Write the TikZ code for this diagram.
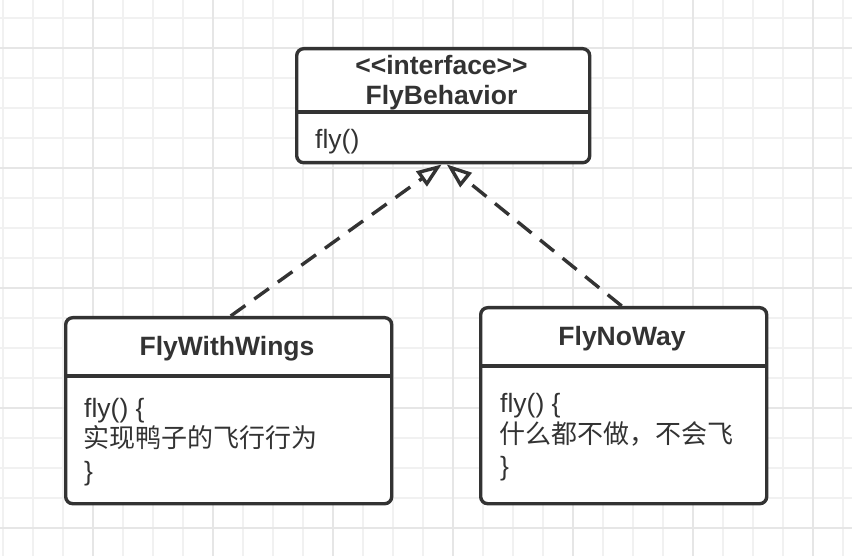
\documentclass[tikz,border=0pt]{standalone}
\usepackage{fontspec}
\setmainfont{Liberation Sans}
\newfontfamily\cjk{Noto Sans CJK SC}
\usetikzlibrary{arrows.meta}
\definecolor{ink}{HTML}{333333}
\definecolor{gridminor}{HTML}{F1F1F1}
\definecolor{gridmajor}{HTML}{E6E6E6}
\begin{document}
\begin{tikzpicture}[x=1pt,y=-1pt,
  umlbox/.style={draw=ink, line width=3.4pt, rounded corners=7pt, fill=white, inner sep=0pt, anchor=north west},
  titletext/.style={font=\fontsize{26.5}{30}\selectfont\bfseries, text=ink, inner sep=0pt, anchor=base},
  bodytext/.style={font=\fontsize{26.5}{30}\selectfont, text=ink, inner sep=0pt, anchor=base west},
  cjktext/.style={font=\fontsize{26}{30}\selectfont\cjk, text=ink, inner sep=0pt, anchor=base west},
  divider/.style={draw=ink, line width=3.4pt},
  realize/.style={draw=ink, line width=3.4pt, dash pattern=on 18pt off 11pt,
    -{Triangle[open, length=25pt, width=18pt]}}
]
\useasboundingbox (0,0) rectangle (852,556);
\fill[white] (0,0) rectangle (852,556);
% grid
\foreach \x in {3,33,...,843} \draw[gridminor, line width=1.5pt] (\x,0) -- (\x,556);
\foreach \y in {18,48,...,548} \draw[gridminor, line width=1.5pt] (0,\y) -- (852,\y);
\foreach \x in {93,213,...,813} \draw[gridmajor, line width=1.5pt] (\x,0) -- (\x,556);
\foreach \y in {48,168,...,528} \draw[gridmajor, line width=1.5pt] (0,\y) -- (852,\y);

% FlyBehavior
\node[umlbox, minimum width=293pt, minimum height=114pt] (fb) at (295,47) {};
\draw[divider] (fb.west |- 0,112) -- (fb.east |- 0,112);
\node[titletext] (fbst) at (441.5,75) {<{}<interface>{}>};
\node[titletext] (fbname) at (441.5,105) {FlyBehavior};
\node[bodytext] (fbop) at (315,149) {fly()};

% FlyWithWings
\node[umlbox, minimum width=326pt, minimum height=186pt] (fww) at (64,316) {};
\draw[divider] (fww.west |- 0,376) -- (fww.east |- 0,376);
\node[titletext] (fwwname) at (227,355) {FlyWithWings};
\node[bodytext] (fwwa) at (84,417) {fly() \{};
\node[cjktext] (fwwb) at (83.5,447.5) {实现鸭子的飞行行为};
\node[bodytext] (fwwc) at (84,480) {\}};

% FlyNoWay
\node[umlbox, minimum width=286pt, minimum height=196pt] (fnw) at (479,306) {};
\draw[divider] (fnw.west |- 0,366) -- (fnw.east |- 0,366);
\node[titletext] (fnwname) at (622,345) {FlyNoWay};
\node[bodytext] (fnwa) at (500,412.5) {fly() \{};
\node[cjktext] (fnwb) at (499.5,443.5) {什么都不做，不会飞};
\node[bodytext] (fnwc) at (500,475.5) {\}};

% realization arrows
\draw[realize] ([xshift=2pt]fww.north) -- ([xshift=-1.5pt]fb.south);
\draw[realize] ([xshift=-2pt]fnw.north) -- ([xshift=3.5pt]fb.south);
\end{tikzpicture}
\end{document}
